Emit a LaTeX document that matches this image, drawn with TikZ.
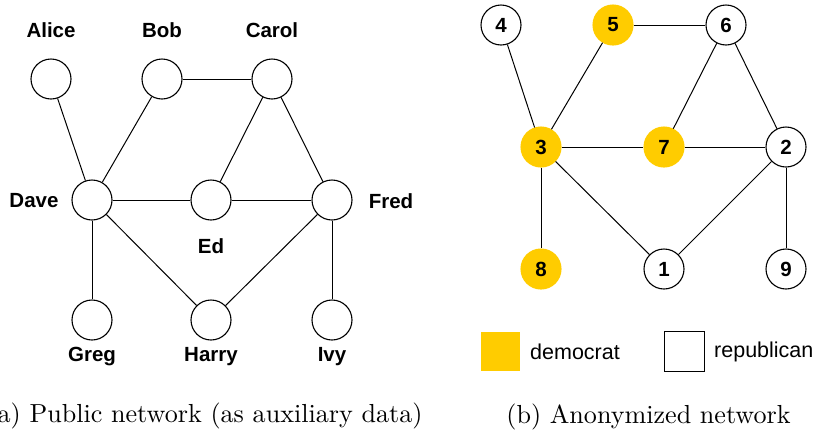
\documentclass[tikz,border=0pt]{standalone}
\usepackage{fontspec}
\newfontfamily\lsans{Liberation Sans}
\newfontfamily\capfont{lmroman10-regular}[Extension=.otf]
\definecolor{demo}{RGB}{255,204,0}
\begin{document}
\begin{tikzpicture}[x=1pt,y=-1pt,
  vtx/.style={circle,draw=black,line width=1.1pt,fill=white,minimum size=40pt,inner sep=0pt,
    font=\lsans\bfseries\fontsize{20.5}{24}\selectfont},
  dem/.style={vtx,draw=demo,fill=demo},
  lbl/.style={inner sep=0pt,font=\lsans\bfseries\fontsize{20.5}{24}\selectfont},
  leg/.style={inner sep=0pt,font=\lsans\fontsize{21.5}{25}\selectfont},
  captxt/.style={inner sep=0pt,anchor=base,font=\capfont\fontsize{26.1}{30}\selectfont},
  edge/.style={line width=1pt}]
\clip (0,0) rectangle (815,432);
\useasboundingbox (0,0) rectangle (815,432);
% left graph
\node[vtx] (alice) at (51,79) {};
\node[vtx] (bob) at (162,79) {};
\node[vtx] (carol) at (272,79) {};
\node[vtx] (dave) at (92,200) {};
\node[vtx] (ed) at (211,200) {};
\node[vtx] (fred) at (332,200) {};
\node[vtx] (greg) at (92,320) {};
\node[vtx] (harry) at (211,320) {};
\node[vtx] (ivy) at (332,320) {};
\node[lbl] (lalice) at (51,30) {Alice};
\node[lbl] (lbob) at (162,30) {Bob};
\node[lbl] (lcarol) at (272,30) {Carol};
\node[lbl] (ldave) at (34,201) {Dave};
\node[lbl] (lfred) at (391,201) {Fred};
\node[lbl] (led) at (211,246) {Ed};
\node[lbl] (lgreg) at (92,357) {Greg};
\node[lbl] (lharry) at (211,357) {Harry};
\node[lbl] (livy) at (332,357) {Ivy};
\draw[edge] (alice) -- (dave);
\draw[edge] (bob) -- (dave);
\draw[edge] (bob) -- (carol);
\draw[edge] (carol) -- (ed);
\draw[edge] (carol) -- (fred);
\draw[edge] (dave) -- (ed);
\draw[edge] (ed) -- (fred);
\draw[edge] (dave) -- (greg);
\draw[edge] (dave) -- (harry);
\draw[edge] (fred) -- (harry);
\draw[edge] (fred) -- (ivy);
% right graph
\node[vtx] (n4) at (501,25) {4};
\node[dem] (n5) at (613,25) {5};
\node[vtx] (n6) at (726,25) {6};
\node[dem] (n3) at (541,147) {3};
\node[dem] (n7) at (664,147) {7};
\node[vtx] (n2) at (786,147) {2};
\node[dem] (n8) at (541,269) {8};
\node[vtx] (n1) at (664,269) {1};
\node[vtx] (n9) at (786,269) {9};
\draw[edge] (n4) -- (n3);
\draw[edge] (n5) -- (n3);
\draw[edge] (n5) -- (n6);
\draw[edge] (n6) -- (n7);
\draw[edge] (n6) -- (n2);
\draw[edge] (n3) -- (n7);
\draw[edge] (n7) -- (n2);
\draw[edge] (n3) -- (n8);
\draw[edge] (n3) -- (n1);
\draw[edge] (n2) -- (n1);
\draw[edge] (n2) -- (n9);
% legend
\node[fill=demo,minimum size=39pt,inner sep=0pt] (sqd) at (500.7,351) {};
\node[leg,anchor=west] (ld) at (530,351.5) {democrat};
\node[draw=black,line width=1.1pt,fill=white,minimum size=40pt,inner sep=0pt] (sqr) at (684.8,351.2) {};
\node[leg,anchor=west] (lr) at (714,351.5) {republican};
% captions
\node[captxt] (capa) at (205,422) {(a) Public network (as auxiliary data)};
\node[captxt] (capb) at (648.5,423) {(b) Anonymized network};
\end{tikzpicture}
\end{document}
